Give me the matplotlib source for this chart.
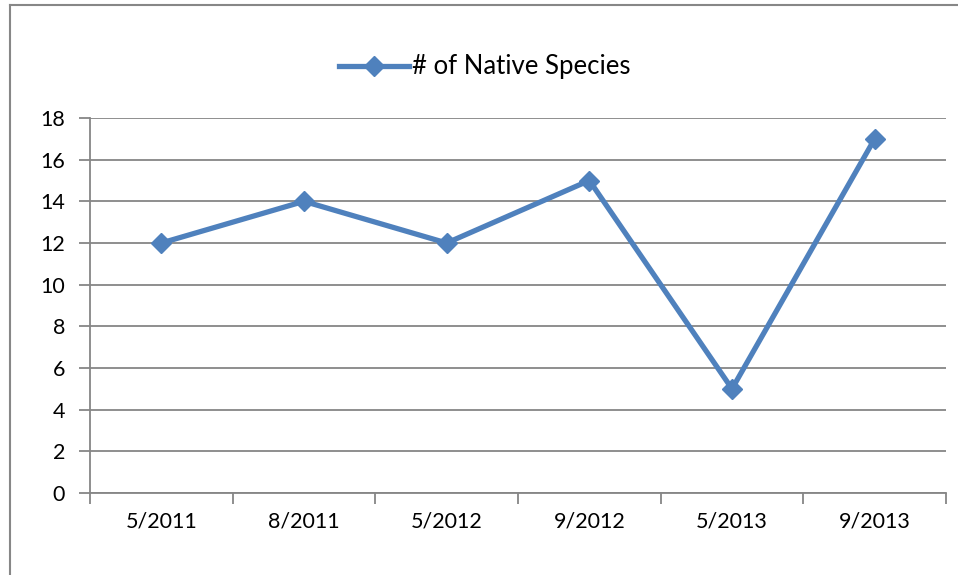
import matplotlib
matplotlib.use("Agg")
import matplotlib.pyplot as plt
from matplotlib.lines import Line2D

categories = ["5/2011", "8/2011", "5/2012", "9/2012", "5/2013", "9/2013"]
values = [12, 14, 12, 15, 5, 17]
series_name = "# of Native Species"
yticks = [0, 2, 4, 6, 8, 10, 12, 14, 16, 18]

plt.rcParams['font.family'] = ['Lato', 'DejaVu Sans']
W, H = 958, 575
fig = plt.figure(figsize=(W/100, H/100), dpi=100)

# chart border (left and top visible)
fig.add_artist(Line2D([9.5/W, 9.5/W], [0, 1 - 4.5/H], color='#878787', lw=1.5, transform=fig.transFigure))
fig.add_artist(Line2D([9.5/W, 1], [1 - 4.5/H, 1 - 4.5/H], color='#878787', lw=1.5, transform=fig.transFigure))

left, right, top, bottom = 90, 946, 118, 493
ax = fig.add_axes([left/W, 1 - bottom/H, (right-left)/W, (bottom-top)/H])
x = list(range(len(categories)))
line_color = '#4F81BD'
ax.plot(x, values, color=line_color, lw=3.8, marker='D', markersize=10.5,
        markerfacecolor=line_color, markeredgecolor=line_color, solid_joinstyle='round', zorder=3, clip_on=False)

ax.set_xlim(-0.5, len(categories) - 0.5)
ax.set_ylim(0, 18)
ax.set_yticks(yticks)
ax.set_yticklabels([str(v) for v in yticks])
ax.set_xticks(x)
ax.set_xticklabels(categories)
ax.set_xticks([i - 0.5 for i in range(len(categories) + 1)], minor=True)

grid_c = '#868686'
for v in yticks:
    ax.axhline(v, color=grid_c, lw=1.3, zorder=1)
for s in ['top', 'right']:
    ax.spines[s].set_visible(False)
ax.spines['left'].set_color(grid_c)
ax.spines['bottom'].set_color(grid_c)
ax.spines['left'].set_linewidth(1.3)
ax.spines['bottom'].set_linewidth(1.3)

ax.tick_params(axis='y', length=8, width=1.3, color=grid_c, labelsize=15.5, pad=10, labelcolor='black')
ax.tick_params(axis='x', which='major', length=0, labelsize=15.5, pad=13, labelcolor='black')
ax.tick_params(axis='x', which='minor', length=8, width=1.3, color=grid_c)

handle = Line2D([], [], color=line_color, lw=3.8, marker='D', markersize=10.5,
                markerfacecolor=line_color, markeredgecolor=line_color)
fig.legend([handle], [series_name], loc='center', bbox_to_anchor=(485/W, 1 - 67/H),
           frameon=False, fontsize=18.5, handlelength=2.7, handletextpad=0.15)

fig.savefig("out.png", dpi=100)
